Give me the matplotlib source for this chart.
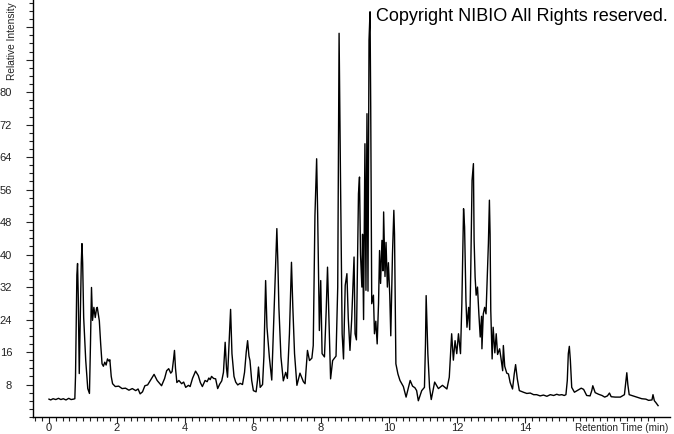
import numpy as np
import matplotlib
matplotlib.use("Agg")
import matplotlib.pyplot as plt
from matplotlib.ticker import FixedLocator, MultipleLocator

plt.rcParams['font.family'] = ['Liberation Sans', 'DejaVu Sans']

# retention time (min) / relative intensity
rt = [0.00, 0.05, 0.12, 0.20, 0.28, 0.35, 0.42, 0.50, 0.58, 0.65, 0.72, 0.76,
      0.78, 0.80, 0.82, 0.84, 0.86, 0.89, 0.92, 0.95, 0.97, 0.99, 1.02, 1.08,
      1.14, 1.19, 1.22, 1.25, 1.28, 1.32, 1.36, 1.40, 1.42, 1.48, 1.52, 1.56,
      1.60, 1.64, 1.68, 1.72, 1.76, 1.79, 1.83, 1.87, 1.95, 2.05, 2.15, 2.25,
      2.35, 2.45, 2.55, 2.62, 2.68, 2.75, 2.82, 2.90, 2.98, 3.09, 3.18, 3.31,
      3.40, 3.46, 3.52, 3.58, 3.62, 3.66, 3.69, 3.72, 3.76, 3.82, 3.90, 3.96,
      4.02, 4.10, 4.15, 4.22, 4.31, 4.39, 4.45, 4.51, 4.59, 4.65, 4.70, 4.74,
      4.78, 4.84, 4.90, 4.96, 5.02, 5.08, 5.13, 5.18, 5.22, 5.25, 5.30, 5.34,
      5.38, 5.44, 5.49, 5.55, 5.62, 5.69, 5.75, 5.80, 5.84, 5.88, 5.91, 5.96,
      6.01, 6.09, 6.13, 6.16, 6.21, 6.28, 6.32, 6.37, 6.41, 6.48, 6.55, 6.62,
      6.67, 6.70, 6.73, 6.76, 6.82, 6.89, 6.96, 7.01, 7.07, 7.13, 7.17, 7.22,
      7.29, 7.38, 7.48, 7.53, 7.60, 7.66, 7.73, 7.77, 7.82, 7.87, 7.90, 7.95,
      7.99, 8.03, 8.10, 8.15, 8.19, 8.24, 8.28, 8.34, 8.44, 8.49, 8.53, 8.57,
      8.62, 8.66, 8.71, 8.76, 8.80, 8.85, 8.90, 8.97, 9.00, 9.04, 9.10, 9.13,
      9.16, 9.20, 9.22, 9.25, 9.29, 9.32, 9.35, 9.38, 9.41, 9.44, 9.46, 9.49,
      9.54, 9.57, 9.61, 9.65, 9.69, 9.72, 9.75, 9.79, 9.82, 9.84, 9.88, 9.91,
      9.95, 9.98, 10.02, 10.05, 10.10, 10.14, 10.16, 10.20, 10.26, 10.32, 10.42, 10.50,
      10.56, 10.62, 10.69, 10.76, 10.81, 10.86, 10.96, 11.04, 11.07, 11.09, 11.14, 11.19,
      11.24, 11.34, 11.45, 11.57, 11.70, 11.77, 11.84, 11.89, 11.94, 11.99, 12.04, 12.10,
      12.14, 12.19, 12.22, 12.26, 12.29, 12.34, 12.37, 12.40, 12.44, 12.48, 12.50, 12.53,
      12.56, 12.60, 12.64, 12.68, 12.72, 12.73, 12.77, 12.81, 12.85, 12.92, 12.95, 12.97,
      12.99, 13.03, 13.06, 13.11, 13.15, 13.19, 13.25, 13.29, 13.34, 13.36, 13.40, 13.46,
      13.51, 13.56, 13.63, 13.68, 13.72, 13.77, 13.83, 13.95, 14.05, 14.15, 14.25, 14.34,
      14.44, 14.54, 14.64, 14.74, 14.84, 14.93, 15.00, 15.08, 15.15, 15.20, 15.24, 15.27,
      15.30, 15.33, 15.37, 15.45, 15.55, 15.65, 15.72, 15.81, 15.91, 15.96, 15.99, 16.06,
      16.16, 16.26, 16.34, 16.42, 16.48, 16.53, 16.65, 16.80, 16.92, 16.96, 16.99, 17.02,
      17.06, 17.24, 17.43, 17.55, 17.63, 17.73, 17.76, 17.80, 17.84, 17.91]

intensity = [4.4, 4.2, 4.5, 4.3, 4.6, 4.3, 4.5, 4.2, 4.6, 4.3, 4.4, 4.5,
             10, 23, 35, 37.8, 30, 10.7, 25, 38, 42.7, 38, 24.5, 14,
             7, 5.8, 18, 31.9, 23.8, 27, 24.5, 26.8, 27, 23.7, 18, 13.1,
             12.5, 13.5, 12.8, 14.3, 13.8, 14.1, 10, 8.2, 7.5, 7.6, 7.0, 7.1,
             6.6, 7.0, 6.5, 6.9, 5.7, 6.2, 7.7, 7.9, 9.0, 10.5, 9, 7.7,
             9.5, 11.4, 11.9, 10.8, 11.2, 14, 16.4, 12, 8.5, 9, 8.2, 8.6,
             7.3, 7.8, 7.5, 9.5, 11.3, 10.2, 8.5, 7.5, 9.0, 8.7, 9.6, 9.2,
             10.0, 9.5, 9.4, 7.0, 8.1, 8.9, 11, 18.4, 12, 9.8, 19, 26.5,
             15.6, 10, 8.6, 7.9, 8.3, 8.0, 11, 16, 18.8, 15, 13.9, 9,
             6.5, 6.2, 9, 12.3, 7.3, 8, 15, 33.6, 22.1, 14.7, 9.1, 26.2,
             38, 46.4, 38, 27, 14.8, 8.9, 11, 9.5, 20.5, 38.1, 27, 15.6,
             7.8, 10.8, 8.7, 8.2, 16.4, 13.9, 14.5, 17.6, 49.6, 63.6, 50, 21.3,
             33.6, 15.6, 14.8, 26, 36.9, 22, 9.4, 13.9, 15, 32, 94.5, 60,
             20.5, 14.3, 32.4, 35.3, 24.3, 16.4, 24, 39.4, 20.5, 19, 55, 59.1,
             40, 32, 45, 24, 67.3, 31.2, 74.7, 31, 92.8, 99.8, 76.4, 27.9,
             30, 20.5, 23.6, 18, 28, 41, 32.9, 43.5, 36, 50.5, 34.6, 43,
             32, 38, 30, 20, 40.2, 50.9, 45, 13.1, 10.6, 9, 7.5, 4.9,
             7, 9, 7.6, 7.2, 6.5, 4.0, 6.5, 7.3, 18, 29.9, 15.6, 7.3,
             4.3, 8.6, 7.0, 7.8, 6.9, 9.8, 20.5, 14, 18.8, 15.6, 20.5, 15.6,
             28, 51.3, 46.8, 28.7, 22.1, 27, 21.5, 35.3, 58.3, 62.4, 43.5, 34.4,
             30, 32, 25.4, 19.7, 24.8, 16.8, 25.4, 27, 25.4, 42.7, 53.4, 45,
             26.2, 14.3, 22.1, 15.8, 20.5, 15.4, 16.8, 14.5, 11.4, 17.6, 12.5, 10.8,
             10.6, 8.5, 6.9, 10.6, 12.9, 9.4, 6.5, 6.1, 5.8, 5.9, 5.5, 5.5,
             5.2, 5.4, 5.1, 5.5, 5.3, 5.6, 5.4, 5.5, 5.3, 5.5, 9, 15.6,
             17.4, 14, 7.3, 6.1, 6.6, 7.1, 6.8, 5.3, 5.2, 6.5, 7.7, 6.0,
             5.6, 5.3, 4.9, 5.2, 5.9, 5.0, 4.9, 4.9, 5.5, 8.6, 10.9, 8,
             5.5, 5.0, 4.5, 4.4, 4.1, 4.2, 5.5, 4.0, 3.6, 2.8]

x_ticks = [0, 2, 4, 6, 8, 10, 12, 14]
y_ticks = [8, 16, 24, 32, 40, 48, 56, 64, 72, 80]

fig = plt.figure(figsize=(6.74, 4.34), dpi=100)
ax = fig.add_axes([33 / 674, 17 / 434, 637 / 674, 417 / 434])

ax.plot(rt, intensity, color='black', lw=1.0)

ax.set_xlim(-0.47, 18.26)
ax.set_ylim(0, 102.7)

ax.spines['top'].set_visible(False)
ax.spines['right'].set_visible(False)
for s in ('left', 'bottom'):
    ax.spines[s].set_linewidth(1.0)

ax.xaxis.set_major_locator(FixedLocator(x_ticks))
ax.xaxis.set_minor_locator(FixedLocator(np.arange(-0.4, 18.0, 0.2)))
ax.yaxis.set_major_locator(FixedLocator(y_ticks + [88, 96]))
ax.yaxis.set_minor_locator(MultipleLocator(2))
ax.set_yticklabels([str(v) for v in y_ticks] + ['', ''])
ax.set_xticklabels([str(v) for v in x_ticks])

ax.tick_params(axis='both', which='major', length=5, width=0.8,
               labelsize=8, colors='#222222')
ax.tick_params(axis='both', which='minor', length=3, width=0.8, colors='#222222')
ax.tick_params(axis='x', which='major', length=4, pad=0)
ax.tick_params(axis='y', which='major', pad=10)

ax.text(1.0 - 2 / 637, -11 / 417, 'Retention Time (min)', transform=ax.transAxes,
        ha='right', va='center', fontsize=7.2, color='#222222')
fig.text(17 / 674, 1 - 80 / 434, 'Relative Intensity', rotation=90,
         ha='right', va='bottom', fontsize=7.3, color='#222222')
fig.text(668 / 674, 1 - 21 / 434, 'Copyright NIBIO All Rights reserved.',
         ha='right', va='baseline', fontsize=13, color='black')

fig.savefig('out.png', dpi=100)
